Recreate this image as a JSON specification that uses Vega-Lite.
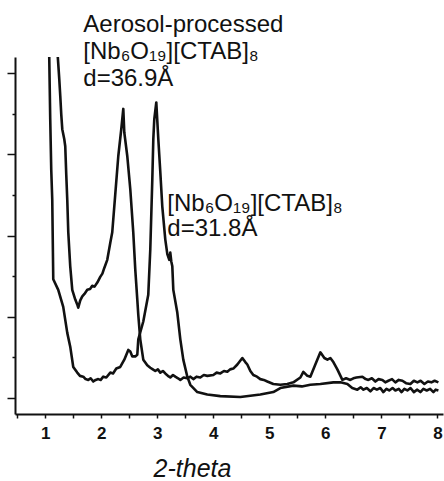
{
  "$schema": "https://vega.github.io/schema/vega-lite/v6.json",
  "width": 428,
  "height": 357,
  "autosize": {"type": "none"},
  "padding": {"left": 15, "top": 57, "right": 1, "bottom": 67},
  "background": "white",
  "config": {
    "view": {"stroke": null},
    "font": "Liberation Sans",
    "axis": {"grid": false, "domainColor": "#111", "tickColor": "#111", "labelColor": "#111", "titleColor": "#111"}
  },
  "resolve": {"axis": {"x": "independent"}},
  "layer": [
    {
      "data": {"values": [
        {"s":"B","x":1.0625,"y":4.42},{"s":"B","x":1.071,"y":4.21},{"s":"B","x":1.089,"y":3.43},{"s":"B","x":1.107,"y":2.81},{"s":"B","x":1.125,"y":2.44},{"s":"B","x":1.143,"y":1.46},{"s":"B","x":1.232,"y":1.33},{"s":"B","x":1.321,"y":1.12},{"s":"B","x":1.393,"y":0.80},{"s":"B","x":1.446,"y":0.63},{"s":"B","x":1.5,"y":0.38},{"s":"B","x":1.571,"y":0.31},{"s":"B","x":1.62,"y":0.27},{"s":"B","x":1.679,"y":0.26},{"s":"B","x":1.72,"y":0.23},{"s":"B","x":1.768,"y":0.22},{"s":"B","x":1.81,"y":0.24},{"s":"B","x":1.857,"y":0.20},{"s":"B","x":1.9,"y":0.22},{"s":"B","x":1.946,"y":0.23},{"s":"B","x":1.99,"y":0.22},{"s":"B","x":2.036,"y":0.26},{"s":"B","x":2.09,"y":0.25},{"s":"B","x":2.161,"y":0.31},{"s":"B","x":2.21,"y":0.30},{"s":"B","x":2.268,"y":0.36},{"s":"B","x":2.339,"y":0.38},{"s":"B","x":2.411,"y":0.47},{"s":"B","x":2.482,"y":0.59},{"s":"B","x":2.518,"y":0.57},{"s":"B","x":2.554,"y":0.51},{"s":"B","x":2.607,"y":0.51},{"s":"B","x":2.643,"y":0.53},{"s":"B","x":2.661,"y":0.72},{"s":"B","x":2.75,"y":0.94},{"s":"B","x":2.839,"y":1.27},{"s":"B","x":2.875,"y":1.83},{"s":"B","x":2.911,"y":2.69},{"s":"B","x":2.929,"y":3.19},{"s":"B","x":2.946,"y":3.43},{"s":"B","x":2.982,"y":3.64},{"s":"B","x":3.018,"y":3.19},{"s":"B","x":3.054,"y":2.78},{"s":"B","x":3.089,"y":2.36},{"s":"B","x":3.143,"y":1.95},{"s":"B","x":3.179,"y":1.77},{"s":"B","x":3.214,"y":1.70},{"s":"B","x":3.232,"y":1.79},{"s":"B","x":3.25,"y":1.68},{"s":"B","x":3.268,"y":1.62},{"s":"B","x":3.286,"y":1.33},{"s":"B","x":3.357,"y":1.05},{"s":"B","x":3.411,"y":0.72},{"s":"B","x":3.464,"y":0.47},{"s":"B","x":3.536,"y":0.26},{"s":"B","x":3.589,"y":0.16},{"s":"B","x":3.714,"y":0.07},{"s":"B","x":3.893,"y":0.04},{"s":"B","x":4.125,"y":0.02},{"s":"B","x":4.482,"y":0.01},{"s":"B","x":4.839,"y":0.04},{"s":"B","x":5.071,"y":0.07},{"s":"B","x":5.196,"y":0.12},{"s":"B","x":5.429,"y":0.15},{"s":"B","x":5.58,"y":0.14},{"s":"B","x":5.732,"y":0.16},{"s":"B","x":5.911,"y":0.17},{"s":"B","x":6.143,"y":0.19},{"s":"B","x":6.268,"y":0.19},{"s":"B","x":6.393,"y":0.17},{"s":"B","x":6.48,"y":0.12},{"s":"B","x":6.571,"y":0.10},{"s":"B","x":6.63,"y":0.13},{"s":"B","x":6.68,"y":0.10},{"s":"B","x":6.74,"y":0.12},{"s":"B","x":6.804,"y":0.08},{"s":"B","x":6.86,"y":0.12},{"s":"B","x":6.92,"y":0.10},{"s":"B","x":6.98,"y":0.12},{"s":"B","x":7.036,"y":0.07},{"s":"B","x":7.09,"y":0.11},{"s":"B","x":7.14,"y":0.09},{"s":"B","x":7.2,"y":0.12},{"s":"B","x":7.25,"y":0.09},{"s":"B","x":7.31,"y":0.11},{"s":"B","x":7.36,"y":0.07},{"s":"B","x":7.41,"y":0.11},{"s":"B","x":7.464,"y":0.09},{"s":"B","x":7.52,"y":0.12},{"s":"B","x":7.58,"y":0.07},{"s":"B","x":7.64,"y":0.10},{"s":"B","x":7.696,"y":0.07},{"s":"B","x":7.75,"y":0.11},{"s":"B","x":7.81,"y":0.09},{"s":"B","x":7.87,"y":0.11},{"s":"B","x":7.929,"y":0.07},{"s":"B","x":7.97,"y":0.10},{"s":"B","x":8.018,"y":0.09},
        {"s":"A","x":1.214,"y":4.42},{"s":"A","x":1.223,"y":4.21},{"s":"A","x":1.25,"y":3.93},{"s":"A","x":1.268,"y":3.72},{"s":"A","x":1.286,"y":3.49},{"s":"A","x":1.304,"y":3.31},{"s":"A","x":1.339,"y":3.19},{"s":"A","x":1.357,"y":3.10},{"s":"A","x":1.375,"y":2.75},{"s":"A","x":1.393,"y":2.44},{"s":"A","x":1.411,"y":2.04},{"s":"A","x":1.446,"y":1.62},{"s":"A","x":1.482,"y":1.33},{"s":"A","x":1.536,"y":1.21},{"s":"A","x":1.571,"y":1.15},{"s":"A","x":1.589,"y":1.11},{"s":"A","x":1.625,"y":1.20},{"s":"A","x":1.661,"y":1.25},{"s":"A","x":1.70,"y":1.28},{"s":"A","x":1.75,"y":1.33},{"s":"A","x":1.80,"y":1.34},{"s":"A","x":1.839,"y":1.38},{"s":"A","x":1.88,"y":1.37},{"s":"A","x":1.929,"y":1.42},{"s":"A","x":1.982,"y":1.49},{"s":"A","x":2.02,"y":1.53},{"s":"A","x":2.054,"y":1.60},{"s":"A","x":2.107,"y":1.70},{"s":"A","x":2.161,"y":1.91},{"s":"A","x":2.196,"y":2.04},{"s":"A","x":2.25,"y":2.51},{"s":"A","x":2.304,"y":2.98},{"s":"A","x":2.357,"y":3.31},{"s":"A","x":2.393,"y":3.56},{"s":"A","x":2.411,"y":3.27},{"s":"A","x":2.464,"y":2.98},{"s":"A","x":2.518,"y":2.57},{"s":"A","x":2.571,"y":2.04},{"s":"A","x":2.607,"y":1.58},{"s":"A","x":2.643,"y":1.21},{"s":"A","x":2.661,"y":1.02},{"s":"A","x":2.696,"y":0.72},{"s":"A","x":2.75,"y":0.47},{"s":"A","x":2.821,"y":0.40},{"s":"A","x":2.875,"y":0.37},{"s":"A","x":2.92,"y":0.35},{"s":"A","x":2.964,"y":0.33},{"s":"A","x":3.01,"y":0.35},{"s":"A","x":3.054,"y":0.31},{"s":"A","x":3.1,"y":0.33},{"s":"A","x":3.143,"y":0.30},{"s":"A","x":3.19,"y":0.27},{"s":"A","x":3.232,"y":0.25},{"s":"A","x":3.28,"y":0.28},{"s":"A","x":3.321,"y":0.26},{"s":"A","x":3.37,"y":0.24},{"s":"A","x":3.411,"y":0.22},{"s":"A","x":3.47,"y":0.25},{"s":"A","x":3.536,"y":0.24},{"s":"A","x":3.59,"y":0.26},{"s":"A","x":3.643,"y":0.23},{"s":"A","x":3.7,"y":0.26},{"s":"A","x":3.768,"y":0.25},{"s":"A","x":3.83,"y":0.28},{"s":"A","x":3.893,"y":0.27},{"s":"A","x":4.0,"y":0.28},{"s":"A","x":4.06,"y":0.31},{"s":"A","x":4.125,"y":0.30},{"s":"A","x":4.19,"y":0.33},{"s":"A","x":4.25,"y":0.32},{"s":"A","x":4.3,"y":0.35},{"s":"A","x":4.357,"y":0.36},{"s":"A","x":4.429,"y":0.41},{"s":"A","x":4.518,"y":0.49},{"s":"A","x":4.571,"y":0.44},{"s":"A","x":4.607,"y":0.41},{"s":"A","x":4.661,"y":0.33},{"s":"A","x":4.714,"y":0.28},{"s":"A","x":4.78,"y":0.26},{"s":"A","x":4.839,"y":0.23},{"s":"A","x":4.9,"y":0.22},{"s":"A","x":4.964,"y":0.20},{"s":"A","x":5.071,"y":0.17},{"s":"A","x":5.196,"y":0.16},{"s":"A","x":5.321,"y":0.17},{"s":"A","x":5.429,"y":0.19},{"s":"A","x":5.554,"y":0.25},{"s":"A","x":5.607,"y":0.32},{"s":"A","x":5.679,"y":0.27},{"s":"A","x":5.732,"y":0.26},{"s":"A","x":5.821,"y":0.41},{"s":"A","x":5.911,"y":0.56},{"s":"A","x":5.982,"y":0.49},{"s":"A","x":6.036,"y":0.47},{"s":"A","x":6.089,"y":0.49},{"s":"A","x":6.143,"y":0.44},{"s":"A","x":6.214,"y":0.35},{"s":"A","x":6.304,"y":0.22},{"s":"A","x":6.37,"y":0.24},{"s":"A","x":6.446,"y":0.22},{"s":"A","x":6.5,"y":0.24},{"s":"A","x":6.554,"y":0.25},{"s":"A","x":6.661,"y":0.26},{"s":"A","x":6.72,"y":0.23},{"s":"A","x":6.768,"y":0.22},{"s":"A","x":6.83,"y":0.24},{"s":"A","x":6.893,"y":0.20},{"s":"A","x":6.95,"y":0.23},{"s":"A","x":7.018,"y":0.22},{"s":"A","x":7.07,"y":0.19},{"s":"A","x":7.125,"y":0.21},{"s":"A","x":7.19,"y":0.23},{"s":"A","x":7.25,"y":0.19},{"s":"A","x":7.31,"y":0.22},{"s":"A","x":7.375,"y":0.21},{"s":"A","x":7.44,"y":0.18},{"s":"A","x":7.518,"y":0.17},{"s":"A","x":7.58,"y":0.21},{"s":"A","x":7.643,"y":0.19},{"s":"A","x":7.7,"y":0.21},{"s":"A","x":7.768,"y":0.17},{"s":"A","x":7.83,"y":0.20},{"s":"A","x":7.893,"y":0.19},{"s":"A","x":7.95,"y":0.21},{"s":"A","x":8.018,"y":0.19}
      ]},
      "mark": {"type": "line", "clip": true, "color": "#111", "strokeWidth": 2.6, "strokeJoin": "round"},
      "encoding": {
        "x": {
          "field": "x", "type": "quantitative",
          "scale": {"domain": [0.46, 8.1], "nice": false, "zero": false},
          "axis": {
            "orient": "bottom",
            "values": [1,2,3,4,5,6,7,8],
            "labelOverlap": false, "labelFlush": false,
            "tickSize": 4, "tickWidth": 1.5, "domainWidth": 2,
            "labelFontSize": 17, "labelFontWeight": "bold", "labelPadding": 7,
            "title": "2-theta", "titleFontSize": 25, "titleFontStyle": "italic", "titleFontWeight": "normal",
            "titleX": 177, "titleY": 62, "titleAlign": "center", "titleBaseline": "alphabetic"
          }
        },
        "y": {
          "field": "y", "type": "quantitative",
          "scale": {"domain": [-0.2, 4.2], "nice": false, "zero": false},
          "axis": {
            "values": [0,0.5,1,1.5,2,2.5,3,3.5,4],
            "labels": false, "title": null, "domainWidth": 2, "tickWidth": 1.5,
            "tickSize": {"condition": {"test": "datum.value % 1 === 0", "value": 8}, "value": 3}
          }
        },
        "detail": {"field": "s", "type": "nominal"}
      }
    },
    {
      "data": {"values": [
        {"x": 1.679, "y": 4.506, "t": "Aerosol-processed"},
        {"x": 1.679, "y": 4.173, "t": "[Nb₆O₁₉][CTAB]₈"},
        {"x": 1.679, "y": 3.84, "t": "d=36.9Å"},
        {"x": 3.179, "y": 2.296, "t": "[Nb₆O₁₉][CTAB]₈"},
        {"x": 3.179, "y": 1.988, "t": "d=31.8Å"}
      ]},
      "mark": {"type": "text", "align": "left", "baseline": "alphabetic", "fontSize": 24, "font": "Liberation Sans", "color": "#111"},
      "encoding": {
        "x": {
          "field": "x", "type": "quantitative",
          "axis": {
            "orient": "bottom",
            "values": [0.5,1.5,2.5,3.5,4.5,5.5,6.5,7.5],
            "labels": false, "title": null, "domain": false,
            "tickSize": 4, "tickWidth": 1.5
          }
        },
        "y": {"field": "y", "type": "quantitative"},
        "text": {"field": "t"}
      }
    }
  ]
}
